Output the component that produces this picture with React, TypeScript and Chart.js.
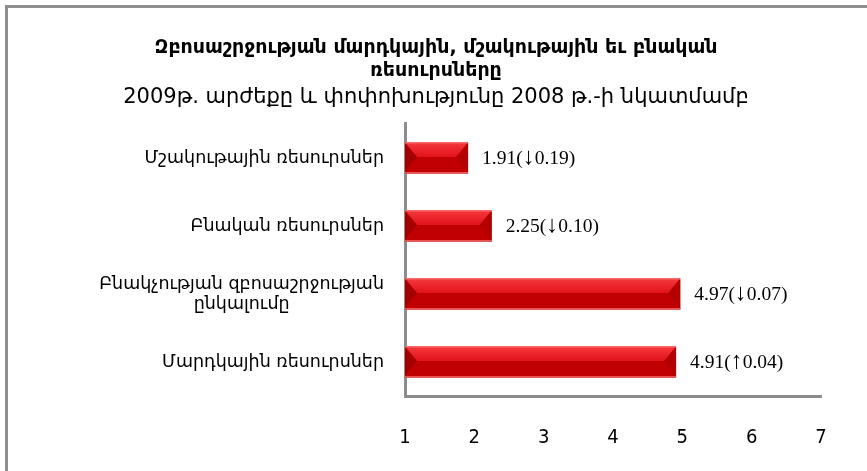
import React, { useEffect, useRef } from 'react';
import { Chart, registerables } from 'chart.js';

Chart.register(...registerables);

const titleLines = ['Զբոսաշրջության մարդկային, մշակութային եւ բնական', 'ռեսուրսները'];
const subtitleText = '2009թ. արժեքը և փոփոխությունը 2008 թ.-ի նկատմամբ';
const categories: string[][] = [
  ['Մշակութային ռեսուրսներ'],
  ['Բնական ռեսուրսներ'],
  ['Բնակչության զբոսաշրջության', 'ընկալումը'],
  ['Մարդկային ռեսուրսներ'],
];
const values2009 = [1.91, 2.25, 4.97, 4.91];
const changes2008 = [-0.19, -0.1, -0.07, 0.04];
const xMin = 1;
const xMax = 7;
const xStep = 1;

const ARM_FONT = "'DejaVu Sans', 'Noto Sans', sans-serif";

const categoryLabelPlugin = {
  id: 'categoryLabels',
  afterDraw(chart: any) {
    const scale = chart.scales.y;
    const ctx = chart.ctx as CanvasRenderingContext2D;
    ctx.save();
    ctx.font = `17.5px ${ARM_FONT}`;
    ctx.fillStyle = '#000000';
    ctx.textBaseline = 'middle';
    ctx.textAlign = 'center';
    const right = scale.right - 21;
    const lh = 20;
    const labels: string[][] = chart.data.labels;
    labels.forEach((lines, i) => {
      const yc = scale.getPixelForTick(i);
      const w = Math.max(...lines.map((l) => ctx.measureText(l).width));
      const cx = right - w / 2;
      lines.forEach((l, j) => {
        ctx.fillText(l, cx, yc + (j - (lines.length - 1) / 2) * lh);
      });
    });
    ctx.restore();
  },
};

const poly = (ctx: CanvasRenderingContext2D, pts: number[][], fill: any) => {
  ctx.beginPath();
  ctx.moveTo(pts[0][0], pts[0][1]);
  for (let i = 1; i < pts.length; i++) ctx.lineTo(pts[i][0], pts[i][1]);
  ctx.closePath();
  ctx.fillStyle = fill;
  ctx.fill();
};

const bevelPlugin = {
  id: 'bevelBars',
  afterDatasetsDraw(chart: any) {
    const ctx = chart.ctx as CanvasRenderingContext2D;
    const meta = chart.getDatasetMeta(0);
    const area = chart.chartArea;
    ctx.save();
    meta.data.forEach((bar: any, i: number) => {
      const { x, y, base, height } = bar.getProps(['x', 'y', 'base', 'height'], true);
      const x0 = Math.max(Math.min(base, x), area.left);
      const x1 = Math.max(base, x);
      const yT = y - height / 2;
      const yB = y + height / 2;
      const ym = y - 1;
      const b = Math.min(12, (x1 - x0) / 2);
      ctx.fillStyle = '#c00000';
      ctx.fillRect(x0, yT, x1 - x0, height);
      const g = ctx.createLinearGradient(0, yT, 0, ym);
      g.addColorStop(0, '#f43a3e');
      g.addColorStop(1, '#e2121a');
      poly(ctx, [[x0, yT], [x1, yT], [x1 - b, ym], [x0 + b, ym]], g);
      poly(ctx, [[x0, yT + 2], [x0 + b, ym], [x0, yB - 2]], '#a40000');
      poly(ctx, [[x1, yT + 1], [x1, yB], [x1 - b, ym]], '#b30000');
      ctx.fillStyle = '#ff8080';
      ctx.fillRect(x0, yT, x1 - x0, 1);
      ctx.fillStyle = '#f06060';
      ctx.fillRect(x0, yB - 1.5, x1 - x0, 1.5);

      // value labels: number in serif, arrow slightly taller
      const v = chart.data.datasets[0].data[i];
      const c = changes2008[i];
      const arrow = c < 0 ? '↓' : '↑';
      const parts: [string, string][] = [
        [`${v.toFixed(2)}(`, "19.5px 'Liberation Serif', 'DejaVu Serif', serif"],
        [arrow, "24px 'Liberation Serif', 'DejaVu Serif', serif"],
        [`${Math.abs(c).toFixed(2)})`, "19.5px 'Liberation Serif', 'DejaVu Serif', serif"],
      ];
      ctx.fillStyle = '#000000';
      ctx.textAlign = 'left';
      ctx.textBaseline = 'alphabetic';
      let tx = x1 + 14;
      const baseline = y + 6.5;
      parts.forEach(([t, f]) => {
        ctx.font = f;
        ctx.fillText(t, tx, baseline);
        tx += ctx.measureText(t).width;
      });
    });
    ctx.restore();
  },
};

export default function App() {
  const ref = useRef<HTMLCanvasElement | null>(null);

  useEffect(() => {
    if (!ref.current) return;
    const chart = new Chart(ref.current, {
      type: 'bar',
      data: {
        labels: categories as any,
        datasets: [
          {
            data: values2009,
            backgroundColor: 'rgba(0,0,0,0)',
            borderWidth: 0,
            categoryPercentage: 1,
            barPercentage: 0.46,
          },
        ],
      },
      options: {
        indexAxis: 'y',
        animation: false,
        responsive: true,
        maintainAspectRatio: false,
        layout: { padding: { left: 51, right: 46, top: 0, bottom: 0 } },
        plugins: {
          legend: { display: false },
          tooltip: { enabled: false },
          title: {
            display: true,
            text: titleLines,
            color: '#000000',
            font: { family: ARM_FONT, size: 19, weight: 'bold', lineHeight: 1.21 },
            padding: { top: 37, bottom: 0 },
          },
          subtitle: {
            display: true,
            text: subtitleText,
            color: '#000000',
            font: { family: ARM_FONT, size: 21, weight: 'normal', lineHeight: 1.143 },
            padding: { top: 3, bottom: 14 },
          },
        },
        scales: {
          x: {
            type: 'linear',
            min: xMin,
            max: xMax,
            ticks: {
              stepSize: xStep,
              color: '#000000',
              padding: 30,
              font: { family: "'Liberation Sans Narrow', 'DejaVu Sans Condensed', 'Open Sans', sans-serif", size: 20 },
            },
            grid: { display: false, drawTicks: false, tickLength: 0 },
            border: { display: true, color: '#8c8c8c', width: 3 },
            afterFit: (s: any) => {
              s.height = 75;
            },
          },
          y: {
            type: 'category',
            ticks: { display: false },
            grid: { display: false, drawTicks: false, tickLength: 0 },
            border: { display: true, color: '#8c8c8c', width: 3 },
            afterFit: (s: any) => {
              s.width = 354;
            },
          },
        },
      },
      plugins: [bevelPlugin, categoryLabelPlugin],
    });
    return () => chart.destroy();
  }, []);

  return (
    <div style={{ position: 'fixed', left: 0, top: 0, width: 867, height: 471, overflow: 'hidden', background: '#ffffff' }}>
      <div
        style={{
          position: 'absolute',
          left: 5,
          top: 5,
          width: 900,
          height: 500,
          borderLeft: '3px solid #8e8e8e',
          borderTop: '3px solid #8e8e8e',
        }}
      />
      <div style={{ position: 'absolute', left: 0, top: 0, width: 867, height: 471 }}>
        <canvas ref={ref} />
      </div>
    </div>
  );
}
